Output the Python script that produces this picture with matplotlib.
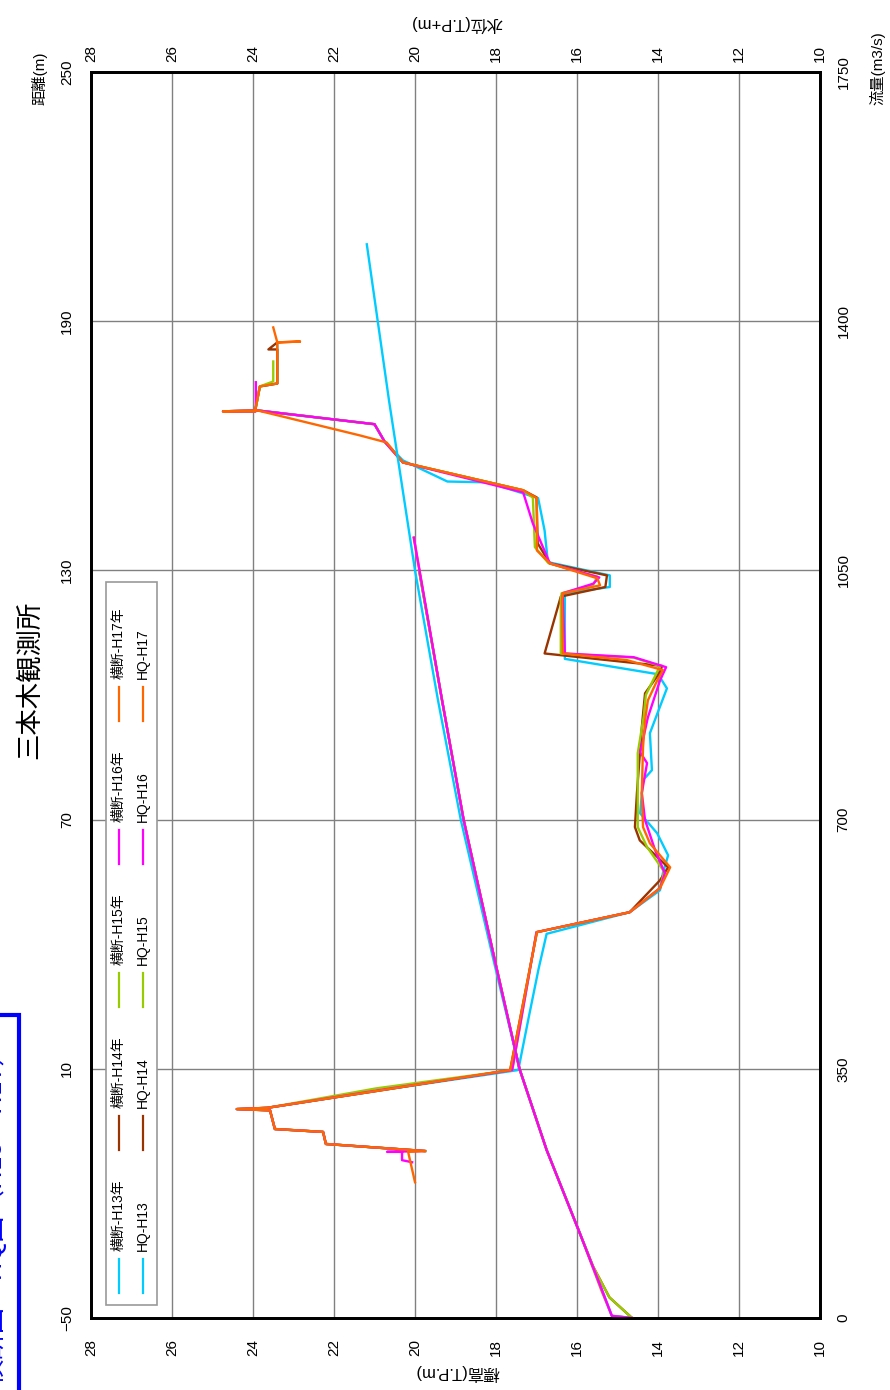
import matplotlib.pyplot as plt
from matplotlib.patches import Rectangle
from matplotlib.lines import Line2D

plt.rcParams['font.family'] = ['Liberation Sans', 'Noto Sans CJK JP', 'DejaVu Sans']

# ---- data ----
title = '三本木観測所'
elev_ticks = [28, 26, 24, 22, 20, 18, 16, 14, 12, 10]
dist_ticks = [-50, 10, 70, 130, 190, 250]
flow_ticks = [0, 350, 700, 1050, 1400, 1750]

years = ['H13', 'H14', 'H15', 'H16', 'H17']
colors = ['#00CCFF', '#993300', '#99CC00', '#FF00FF', '#FF6600']

# 横断 (distance m, elevation T.P.m)
dist_h13 = [-9.8, -8.1, -5.2, -4.5, 0.0, 0.3, 0.6, 4.9, 9.7, 22.0, 34.0, 42.5, 47.7, 53.0, 57.1,
            61.4, 66.7, 71.5, 79.5, 81.9, 90.8, 101.6, 105.0, 108.7, 124.5, 126.0, 128.8, 132.0,
            139.6, 147.4, 151.2, 151.4, 156.5, 161.0, 165.2, 168.5, 168.3, 168.3, 174.3, 175.0, 184.9]
elev_h13 = [19.75, 22.2, 22.27, 23.46, 23.58, 24.4, 23.65, 20.8, 17.45, 17.2, 16.95, 16.75, 14.7, 13.95, 13.88,
            13.75, 14.02, 14.44, 14.37, 14.15, 14.2, 13.78, 14.0, 16.3, 16.3, 15.19, 15.19, 16.72,
            16.8, 16.96, 18.2, 19.2, 20.3, 20.75, 21.0, 23.88, 24.74, 23.95, 23.83, 23.4, 23.4]

dist_h14 = [-9.8, -8.1, -5.2, -4.5, 0.0, 0.3, 0.6, 4.9, 9.7, 42.9, 47.7, 55.4, 58.5, 65.0, 68.2,
            76.4, 92.2, 100.4, 105.5, 107.0, 110.0, 123.7, 126.0, 128.8, 131.7, 136.5, 147.6, 149.3,
            156.0, 161.0, 165.2, 168.5, 168.3, 168.3, 174.3, 175.0, 183.2, 183.2, 184.9]
elev_h14 = [19.75, 22.2, 22.27, 23.46, 23.58, 24.4, 23.65, 20.79, 17.65, 16.99, 14.7, 13.95, 13.75, 14.45, 14.57,
            14.52, 14.4, 14.32, 13.95, 13.9, 16.8, 16.4, 15.3, 15.26, 16.67, 16.97, 17.0, 17.33,
            20.3, 20.75, 21.0, 23.88, 24.74, 23.95, 23.83, 23.4, 23.4, 23.62, 23.4]

dist_h15 = [-9.8, -8.1, -5.2, -4.5, 0.0, 0.3, 0.6, 5.3, 9.7, 42.9, 47.7, 53.5, 57.5, 63.4, 68.2,
            76.4, 86.0, 95.0, 100.0, 105.0, 107.0, 109.0, 110.0, 123.0, 124.5, 126.5, 128.5, 131.7,
            135.6, 147.5, 149.3, 156.0, 161.0, 165.2, 168.5, 168.3, 168.3, 174.3, 175.5, 180.3]
elev_h15 = [19.75, 22.2, 22.27, 23.46, 23.58, 24.4, 23.65, 20.95, 17.6, 17.0, 14.7, 13.95, 13.85, 14.27, 14.5,
            14.5, 14.5, 14.35, 14.3, 14.05, 13.95, 14.6, 16.4, 16.4, 16.38, 15.6, 15.5, 16.7,
            17.04, 17.09, 17.33, 20.3, 20.75, 21.0, 23.88, 24.74, 23.95, 23.83, 23.5, 23.5]

dist_h16 = [-12.5, -12.0, -10.0, -10.0, -9.8, -8.1, -5.2, -4.5, 0.0, 0.3, 0.6, 4.9, 9.7, 42.9, 47.7,
            53.5, 57.1, 62.6, 69.9, 76.4, 83.6, 86.2, 94.6, 103.5, 106.7, 109.1, 110.0, 123.0, 124.5,
            126.8, 128.3, 131.7, 141.3, 148.8, 156.0, 161.0, 165.2, 168.5, 168.3, 168.3, 175.3]
elev_h16 = [20.07, 20.32, 20.32, 20.69, 19.75, 22.2, 22.27, 23.46, 23.58, 24.4, 23.65, 20.85, 17.6, 17.0, 14.7,
            13.95, 13.83, 14.07, 14.32, 14.4, 14.27, 14.44, 14.25, 13.95, 13.8, 14.6, 16.3, 16.35, 16.35,
            15.6, 15.45, 16.67, 17.09, 17.33, 20.3, 20.75, 21.0, 23.88, 24.74, 23.93, 23.93]

dist_h17 = [-17.3, -10.0, -9.8, -8.1, -5.2, -4.5, 0.0, 0.3, 0.6, 4.9, 9.7, 42.9, 47.7, 53.5, 58.5,
            64.3, 68.2, 76.4, 87.4, 93.9, 98.7, 103.5, 106.0, 108.4, 110.0, 122.8, 124.5, 126.4, 128.1,
            131.7, 134.8, 147.4, 149.3, 156.0, 160.8, 162.5, 168.5, 168.3, 168.3, 174.3, 175.0, 184.9,
            185.1, 184.9, 188.5]
elev_h17 = [20.0, 20.17, 19.75, 22.2, 22.27, 23.46, 23.58, 24.4, 23.65, 20.79, 17.65, 16.99, 14.7, 13.95, 13.7,
            14.2, 14.37, 14.4, 14.37, 14.32, 14.25, 14.02, 13.88, 14.77, 16.35, 16.37, 16.35, 15.43, 15.5,
            16.67, 16.99, 16.99, 17.33, 20.3, 20.7, 21.36, 23.88, 24.74, 23.95, 23.83, 23.4, 23.4,
            22.84, 23.4, 23.5]

# HQ (flow m3/s, water level T.P+m)
hq_q_h13 = [0, 3, 39, 119, 236, 350, 500, 700, 867, 1050, 1288, 1508]
hq_e_h13 = [14.64, 15.14, 15.38, 15.93, 16.75, 17.42, 18.05, 18.87, 19.43, 20.0, 20.64, 21.19]
hq_q_h14 = [0, 29, 72, 119, 236, 350, 500, 700, 867, 1050]
hq_e_h14 = [14.64, 15.2, 15.6, 15.93, 16.75, 17.42, 18.02, 18.8, 19.33, 19.9]
hq_q_h15 = [0, 29, 72, 119, 236, 350, 500, 700, 867, 1050]
hq_e_h15 = [14.64, 15.2, 15.6, 15.93, 16.75, 17.42, 18.02, 18.8, 19.33, 19.9]
hq_q_h16 = [0, 3, 39, 119, 236, 350, 500, 700, 867, 1096]
hq_e_h16 = [14.64, 15.14, 15.38, 15.93, 16.75, 17.42, 18.02, 18.8, 19.33, 20.03]
hq_q_h17 = [0, 3, 39, 119, 236, 350, 500, 700, 867, 1096]
hq_e_h17 = [14.64, 15.14, 15.4, 15.93, 16.75, 17.42, 18.02, 18.8, 19.33, 20.03]

sections = [(dist_h13, elev_h13), (dist_h14, elev_h14), (dist_h15, elev_h15),
            (dist_h16, elev_h16), (dist_h17, elev_h17)]
hqs = [(hq_q_h13, hq_e_h13), (hq_q_h14, hq_e_h14), (hq_q_h15, hq_e_h15),
       (hq_q_h16, hq_e_h16), (hq_q_h17, hq_e_h17)]

W, H = 890, 1390


def fp(x, y):
    # pixel (from top-left) -> figure fraction
    return x / W, 1 - y / H


fig = plt.figure(figsize=(W / 100, H / 100), dpi=100)
ax = fig.add_axes([91 / W, 1 - 1318 / H, (820 - 91) / W, (1318 - 72) / H])
ax.set_xlim(28, 10)
ax.set_ylim(-50, 250)
ax.set_xticks(elev_ticks)
ax.set_yticks(dist_ticks)
ax.set_xticklabels([str(v) for v in elev_ticks], rotation=90, va='top', ha='center')
ax.set_yticklabels([str(v).replace('-', '\u2212') for v in dist_ticks], rotation=90, va='center', ha='right')
ax.grid(True, color='#808080', lw=1)
ax.set_axisbelow(True)
ax.tick_params(axis='x', length=0, labelsize=11, pad=15)
ax.tick_params(axis='y', length=0, labelsize=11, pad=12)
for s in ax.spines.values():
    s.set_linewidth(2)

top = ax.secondary_xaxis('top')
top.set_xticks(elev_ticks)
top.set_xticklabels([str(v) for v in elev_ticks], rotation=90, va='bottom', ha='center')
top.tick_params(length=0, labelsize=11, pad=7)

ax2 = ax.twinx()
ax2.set_ylim(0, 1750)
ax2.set_yticks(flow_ticks)
ax2.set_yticklabels([str(v) for v in flow_ticks], rotation=90, va='center', ha='left')
ax2.tick_params(length=0, labelsize=11, pad=12)
for s in ax2.spines.values():
    s.set_linewidth(2)

for (d, e), c in zip(sections, colors):
    ax.plot(e, d, color=c, lw=1.7)
# HQ curves: H16 sits on top in the original
for i in [4, 0, 1, 2, 3]:
    q, e = hqs[i]
    ax2.plot(e, q, color=colors[i], lw=1.7)

# legend drawn by hand (rotated layout)
x0, y0 = fp(106, 1305)
x1, y1 = fp(157, 582)
fig.add_artist(Rectangle((x0, y0), x1 - x0, y1 - y0, transform=fig.transFigure,
                         facecolor='white', edgecolor='#999999', lw=1.2, zorder=5))
for i, (yr, c) in enumerate(zip(years, colors)):
    yb = 1293 - i * 143
    for xr, lab in [(119, '横断-' + yr + '年'), (143, 'HQ-' + yr)]:
        la, lb = fp(xr, yb)
        la2, lb2 = fp(xr, yb - 34)
        fig.add_artist(Line2D([la, la2], [lb, lb2], transform=fig.transFigure,
                              color=c, lw=1.6, zorder=6))
        tx, ty = fp(xr, yb - 42)
        fig.text(tx, ty, lab, rotation=90, rotation_mode='anchor', ha='left', va='center',
                 fontsize=10, zorder=7)

# titles / axis labels
tx, ty = fp(29, 680)
fig.text(tx, ty, title, rotation=90, ha='center', va='center', fontsize=19,
         family=['Noto Sans CJK JP'])
tx, ty = fp(457, 24)
fig.text(tx, ty, '水位(T.P+m)', rotation=180, ha='center', va='center', fontsize=12)
tx, ty = fp(457, 1372)
fig.text(tx, ty, '標高(T.P.m)', rotation=180, ha='center', va='center', fontsize=12)
tx, ty = fp(39, 78)
fig.text(tx, ty, '距離(m)', rotation=90, ha='center', va='center', fontsize=11)
tx, ty = fp(877, 68)
fig.text(tx, ty, '流量(m3/s)', rotation=90, ha='center', va='center', fontsize=11)

# blue frame at the left edge (mostly cut off in the original)
bx0, by0 = fp(-40, 1400)
bx1, by1 = fp(19, 1015)
fig.add_artist(Rectangle((bx0, by0), bx1 - bx0, by1 - by0, transform=fig.transFigure,
                         facecolor='none', edgecolor='#0000FF', lw=3))
tx, ty = fp(7, 1385)
fig.text(tx, ty, '横断図・HQ図（H13～H17）', rotation=90, rotation_mode='anchor',
         ha='left', va='bottom', fontsize=19, color='#0000FF', family=['Noto Sans CJK JP'])

fig.savefig('out.png', dpi=100)
